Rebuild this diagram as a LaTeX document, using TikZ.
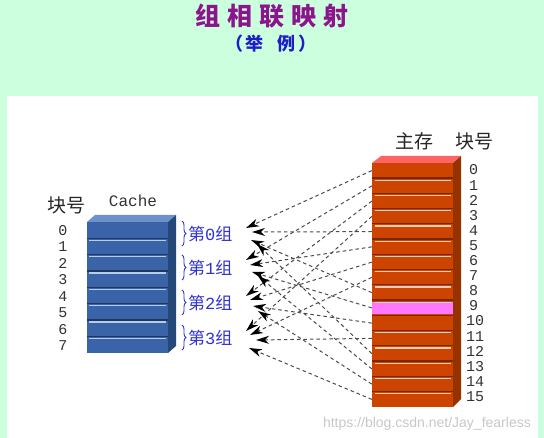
\documentclass[tikz,border=0pt]{standalone}
\usepackage{fontspec}
\newfontfamily\cjk{Noto Sans CJK SC}
\newfontfamily\mono{Liberation Mono}
\newfontfamily\wmfont{Liberation Sans}
\usetikzlibrary{arrows.meta,decorations.pathreplacing}
\definecolor{bggreen}{RGB}{204,255,221}
\definecolor{cfront}{RGB}{58,99,168}
\definecolor{cside}{RGB}{38,72,120}
\definecolor{ctop}{RGB}{110,145,205}
\definecolor{cdark}{RGB}{30,55,95}
\definecolor{clight}{RGB}{180,205,235}
\definecolor{mfront}{RGB}{204,68,0}
\definecolor{mside}{RGB}{150,50,0}
\definecolor{mtop}{RGB}{255,100,100}
\definecolor{mdark}{RGB}{120,40,0}
\definecolor{mlight}{RGB}{255,205,185}
\definecolor{mpink}{RGB}{255,119,255}
\definecolor{titlepurple}{RGB}{140,20,140}
\definecolor{subblue}{RGB}{30,30,200}
\definecolor{grpblue}{RGB}{50,50,210}
\definecolor{wmgray}{RGB}{200,200,200}
\tikzset{
  cblock/.style={rectangle, minimum width=81pt, minimum height=16.375pt, inner sep=0pt, fill=cfront},
  mblock/.style={rectangle, minimum width=81pt, minimum height=15.25pt, inner sep=0pt, fill=mfront},
  numtxt/.style={inner sep=0pt, font=\mono\fontsize{15}{15}\selectfont, text=black!80},
  cjktxt/.style={inner sep=0pt, font=\cjk\fontsize{19}{19}\selectfont, text=black!85},
  grptxt/.style={inner sep=0pt, anchor=west, text=grpblue, font=\fontsize{17}{17}\selectfont},
  grpbrace/.style={decorate, decoration={brace, amplitude=4pt}, draw=grpblue, line width=0.9pt},
  link/.style={draw=black!70, line width=1pt, dash pattern=on 3.5pt off 3pt, -{Stealth[length=13pt,width=8pt,inset=4pt,line width=0pt,black]}},
}
\begin{document}
\begin{tikzpicture}[x=1pt,y=-1pt]
\useasboundingbox (0,0) rectangle (544,438);
\fill[bggreen] (0,0) rectangle (544,438);
\fill[white] (7,96) rectangle (538,438);
% title
\node[inner sep=0pt, text=titlepurple, font=\cjk\bfseries\fontsize{25}{28}\selectfont] (title) at (272,16) {组\hspace{7pt}相\hspace{7pt}联\hspace{7pt}映\hspace{7pt}射};
\node[inner sep=0pt, text=subblue, font=\cjk\bfseries\fontsize{18}{20}\selectfont] (subtitle) at (271,44) {（\hspace{3pt}举\hspace{14pt}例\hspace{3pt}）};
% cache 3D
\fill[ctop] (87,222) -- (95,215) -- (176,215) -- (168,222) -- cycle;
\fill[cside] (168,222) -- (176,215) -- (176,346) -- (168,353) -- cycle;
\foreach \i in {0,...,7} {
  \node[cblock] (c\i) at (127.5,{222+16.375*(\i+0.5)}) {};
}
\foreach \i in {1,...,7} {
  \draw[cdark, line width=1.2pt] (c\i.north west) -- (c\i.north east);
  \draw[clight, line width=1.3pt] ([shift={(2,2)}]c\i.north west) -- ([shift={(-2,2)}]c\i.north east);
}
\node[cjktxt] (cachenum) at (66,205) {块号};
\node[inner sep=0pt, font=\mono\fontsize{16}{16}\selectfont, text=black!80] (cachelabel) at (133,201) {Cache};
\foreach \i in {0,...,7} {
  \node[numtxt] (cn\i) at (63,{230.5+16.5*\i}) {\i};
}
% memory 3D
\fill[mtop] (372,163) -- (381,156) -- (461,156) -- (453,163) -- cycle;
\fill[mside] (453,163) -- (461,156) -- (461,399) -- (453,407) -- cycle;
\foreach \i in {0,...,15} {
  \node[mblock] (m\i) at (412.5,{163+15.25*(\i+0.5)}) {};
}
\node[mblock, fill=mpink, minimum height=12pt] (m9pink) at (m9) {};
\foreach \i in {1,...,15} {
  \draw[mdark, line width=1.2pt] (m\i.north west) -- (m\i.north east);
}
\foreach \i in {1,...,9,11,12,13,14,15} {
  \draw[mlight, line width=1.3pt] ([shift={(3,2.2)}]m\i.north west) -- ([shift={(-2,2.2)}]m\i.north east);
}
\node[cjktxt] (memlabel) at (414,141) {主存};
\node[cjktxt] (memnum) at (474,141) {块号};
\foreach \i in {0,...,15} {
  \node[numtxt, anchor=west] (mn\i) at ({\i<10 ? 469 : 466},{170+15.1*\i}) {\i};
}
% groups
\foreach \g/\y in {0/234,1/268,2/303,3/338} {
  \draw[grpbrace] (182,{\y-13}) -- (182,{\y+12});
  \node[grptxt] (g\g) at (188,\y) {\cjk 第\mono\g\cjk 组};
}
% arrow tips
\coordinate (t0) at (246,228);
\coordinate (t4) at (252,232);
\coordinate (t8) at (251,240);
\coordinate (t12) at (257,244);
\coordinate (t1) at (246,260);
\coordinate (t5) at (250,265);
\coordinate (t9) at (252,272);
\coordinate (t13) at (258,276);
\coordinate (t2) at (246,296);
\coordinate (t6) at (250,300);
\coordinate (t10) at (253,306);
\coordinate (t14) at (258,311);
\coordinate (t3) at (246,331);
\coordinate (t7) at (250,335);
\coordinate (t11) at (256,340);
\coordinate (t15) at (249,348);
\foreach \i in {0,...,15} {
  \draw[link] (m\i.west) -- (t\i);
}
% watermark
\node[inner sep=0pt, anchor=east, text=wmgray, font=\wmfont\fontsize{14}{14}\selectfont] (wm) at (531,424) {https://blog.csdn.net/Jay\_fearless};
\end{tikzpicture}
\end{document}
